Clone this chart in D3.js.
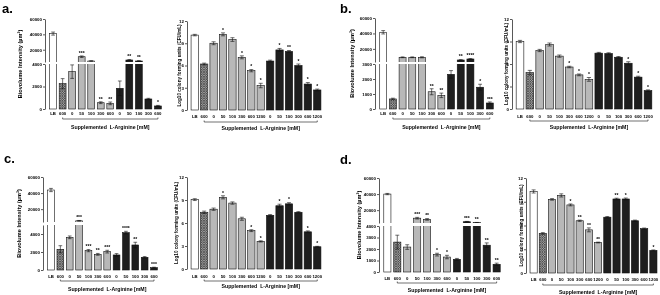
<!DOCTYPE html>
<html>
<head>
<meta charset="utf-8">
<script src="https://cdn.jsdelivr.net/npm/d3@7"></script>
<style>
  body { margin: 0; background: #fff; }
  svg { will-change: transform; }
  text { font-family: "Liberation Sans", Arial, sans-serif; font-weight: bold; fill: #000; }
</style>
</head>
<body>
<svg id="fig" width="660" height="295"></svg>
<script>
// categories
const bioCats = ["LB", "600", "0", "50", "100", "300", "600", "0", "50", "100", "300", "600"];
const cfuCats = ["LB", "600", "0", "50", "100", "300", "600", "1200", "0", "50", "100", "300", "600", "1200"];

// tick labels
const bioLowTicksA = [0, 2000, 4000];
const bioLowTicksB = [0, 1000, 2000, 3000];
const bioLowTicksC = [0, 2000, 4000];
const bioLowTicksD = [0, 1000, 2000, 3000, 4000];
const bioHighTicks = [20000, 40000, 60000];
const cfuTicks = [0, 3, 6, 9, 12];

// panel a
const bioA = [41000, 2250, 3320, 10900, 5300, 560, 500, 1840, 6600, 5300, 890, 270];
const bioAErr = [2000, 450, 600, 1000, 400, 80, 120, 650, 600, 500, 60, 50];
const bioAStars = ["", "", "", "***", "", "**", "**", "", "**", "**", "", "*"];
const cfuA = [10.1, 6.2, 9.0, 10.2, 9.5, 7.1, 5.3, 3.3, 6.6, 8.1, 7.9, 6.0, 3.5, 2.7];
const cfuAErr = [0.1, 0.12, 0.2, 0.2, 0.25, 0.2, 0.15, 0.3, 0.12, 0.2, 0.12, 0.2, 0.2, 0.12];
const cfuAStars = ["", "", "", "*", "", "*", "*", "*", "", "*", "**", "*", "*", "*"];

// panel b
const bioB = [41500, 670, 9100, 9100, 9100, 1150, 910, 2310, 5600, 6900, 1450, 400];
const bioBErr = [2200, 50, 500, 500, 700, 200, 150, 250, 400, 500, 200, 70];
const bioBStars = ["", "", "", "", "", "**", "**", "", "**", "****", "*", "***"];
const cfuB = [9.0, 4.85, 7.8, 8.6, 7.05, 5.6, 4.55, 3.95, 7.45, 7.4, 6.9, 6.1, 4.25, 2.45];
const cfuBErr = [0.15, 0.3, 0.15, 0.2, 0.15, 0.1, 0.12, 0.25, 0.1, 0.1, 0.1, 0.2, 0.12, 0.1];
const cfuBStars = ["", "", "", "", "", "*", "*", "*", "", "", "", "*", "*", "*"];

// panel c
const bioC = [43800, 2300, 3630, 5500, 2150, 1740, 2040, 1670, 4150, 2780, 1410, 260];
const bioCErr = [2000, 400, 150, 400, 120, 100, 150, 150, 150, 300, 80, 50];
const bioCStars = ["", "", "", "***", "***", "**", "***", "", "****", "**", "", "***"];
const cfuC = [9.05, 7.4, 7.8, 9.35, 8.6, 6.55, 5.0, 3.6, 7.0, 8.25, 8.5, 7.4, 4.85, 2.9];
const cfuCErr = [0.12, 0.15, 0.15, 0.2, 0.15, 0.2, 0.12, 0.08, 0.1, 0.2, 0.15, 0.08, 0.12, 0.06];
const cfuCStars = ["", "", "", "*", "", "", "*", "*", "", "*", "*", "", "*", "*"];

// panel d
const bioD = [40000, 2600, 2170, 10000, 8500, 1510, 1300, 1100, 5600, 4400, 2330, 670];
const bioDErr = [800, 600, 200, 1000, 1000, 120, 150, 80, 400, 300, 200, 100];
const bioDStars = ["", "", "", "***", "**", "*", "*", "", "***", "**", "**", "**"];
const cfuD = [10.3, 5.0, 9.3, 9.8, 8.6, 6.6, 5.45, 3.85, 7.05, 9.35, 9.35, 6.6, 5.6, 2.85];
const cfuDErr = [0.2, 0.1, 0.1, 0.2, 0.12, 0.08, 0.25, 0.05, 0.08, 0.1, 0.12, 0.08, 0.08, 0.06];
const cfuDStars = ["", "", "", "", "*", "**", "**", "**", "", "**", "*", "", "", "*"];

const svg = d3.select("#fig");

const pat = svg.append("defs").append("pattern")
    .attr("id", "hatch")
    .attr("patternUnits", "userSpaceOnUse")
    .attr("width", 2.4)
    .attr("height", 2.4);
pat.append("rect").attr("width", 2.4).attr("height", 2.4).attr("fill", "#a8a8a8");
pat.append("path").attr("d", "M0,0L2.4,2.4M2.4,0L0,2.4").attr("stroke", "#333").attr("stroke-width", 0.6);

function drawBars(g, cats, vals, errs, stars, x, y, y0) {
    let n = cats.length, half = 2 + (n - 2) / 2;
    let fill = i => i === 0 ? "#fff" : i === 1 ? "url(#hatch)" : i < half ? "#b8b8b8" : "#1e1e1e";
    let bw = x.bandwidth(), cw = bw * 0.55;

    g.selectAll(".bar")
        .data(vals)
        .enter()
        .append("rect")
        .attr("x", (d, i) => x(i))
        .attr("width", bw)
        .attr("y", d => y(d))
        .attr("height", d => y0 - y(d))
        .attr("fill", (d, i) => fill(i))
        .attr("stroke", "#111")
        .attr("stroke-width", 0.6);

    g.selectAll(".err")
        .data(vals)
        .enter()
        .append("path")
        .attr("d", (d, i) => {
            let cx = x(i) + bw / 2, t = y(d + errs[i]), b = y(Math.max(0, d - errs[i]));
            return `M${cx},${t}V${b}M${cx - cw / 2},${t}H${cx + cw / 2}M${cx - cw / 2},${b}H${cx + cw / 2}`;
        })
        .attr("fill", "none")
        .attr("stroke", "#111")
        .attr("stroke-width", 0.6);

    return (d, i) => [x(i) + bw / 2, y(d + errs[i])];
}

function drawStars(g, vals, stars, pos) {
    g.selectAll(".star")
        .data(vals)
        .enter()
        .append("text")
        .attr("x", (d, i) => pos(d, i)[0])
        .attr("y", (d, i) => pos(d, i)[1] - 1.2)
        .attr("text-anchor", "middle")
        .style("font-size", "5px")
        .style("fill", "#000")
        .text((d, i) => stars[i]);
}

function drawXLabels(g, cats, x, p) {
    let ax = g.append("g")
        .attr("transform", `translate(0,${p.labelY})`)
        .call(d3.axisBottom(x).tickSize(0).tickPadding(0).tickFormat(i => cats[i]));
    ax.select(".domain").remove();
    ax.selectAll("text").attr("y", 0).attr("dy", "0.35em").style("font-size", "4.3px")
        .attr("font-family", null).attr("fill", "#000");

    let xa = x(1) + x.bandwidth() / 2, xb = x(cats.length - 1) + x.bandwidth() / 2;
    g.append("path")
        .attr("d", `M${xa},${p.bracketY - 1.5}V${p.bracketY}H${xb}V${p.bracketY - 1.5}`)
        .attr("fill", "none")
        .attr("stroke", "#111")
        .attr("stroke-width", 0.6);
    g.append("text")
        .attr("x", (xa + xb) / 2)
        .attr("y", p.titleY)
        .attr("dy", "0.35em")
        .attr("text-anchor", "middle")
        .attr("xml:space", "preserve")
        .style("font-size", "5.2px")
        .text("Supplemented  L-Arginine [mM]");
}

function styleAxis(a) {
    a.selectAll("path, line").attr("stroke", "#111").attr("stroke-width", 0.7);
    a.selectAll("text").style("font-size", "4.4px").attr("font-family", null).attr("fill", "#000");
}

function yLabel(g, txt, xp, yc, size) {
    g.append("text")
        .attr("transform", `translate(${xp},${yc}) rotate(-90)`)
        .attr("text-anchor", "middle")
        .style("font-size", size)
        .text(txt);
}

function drawBio(p, vals, errs, stars, lowTicks) {
    let g = svg.append("g");
    let x = d3.scaleBand().domain(d3.range(bioCats.length)).range([p.x0, p.x1]).padding(0.28);
    let yLo = d3.scaleLinear().domain([0, p.lowMax]).range([p.y0, p.lowTop]);
    let yHi = d3.scaleLinear().domain([p.highMin, 60000]).range([p.highBot, p.top]);
    let y = v => v <= p.lowMax ? yLo(v) : yHi(v);

    let pos = drawBars(g, bioCats, vals, errs, stars, x, y, p.y0);

    // axis break gap
    g.append("rect")
        .attr("x", p.axisX - 3)
        .attr("y", p.highBot)
        .attr("width", p.x1 - p.axisX + 6)
        .attr("height", p.lowTop - p.highBot)
        .attr("fill", "#fff");

    let fmt = d3.format("d");
    let a1 = g.append("g").attr("transform", `translate(${p.axisX},0)`)
        .call(d3.axisLeft(yLo).tickValues(lowTicks).tickSize(2).tickSizeOuter(0).tickPadding(1).tickFormat(fmt));
    let a2 = g.append("g").attr("transform", `translate(${p.axisX},0)`)
        .call(d3.axisLeft(yHi).tickValues(bioHighTicks).tickSize(2).tickSizeOuter(0).tickPadding(1).tickFormat(fmt));
    styleAxis(a1);
    styleAxis(a2);

    drawStars(g, vals, stars, pos);
    drawXLabels(g, bioCats, x, p);
    yLabel(g, "Biovolume Intensity (µm³)", p.ylabX, (p.top + p.y0) / 2, "5.6px");
}

function drawCfu(p, vals, errs, stars) {
    let g = svg.append("g");
    let x = d3.scaleBand().domain(d3.range(cfuCats.length)).range([p.x0, p.x1]).padding(0.22);
    let y = d3.scaleLinear().domain([0, 12]).range([p.y0, p.top]);

    let pos = drawBars(g, cfuCats, vals, errs, stars, x, y, p.y0);

    let a = g.append("g").attr("transform", `translate(${p.axisX},0)`)
        .call(d3.axisLeft(y).tickValues(cfuTicks).tickSize(2).tickSizeOuter(0).tickPadding(1));
    styleAxis(a);

    drawStars(g, vals, stars, pos);
    drawXLabels(g, cfuCats, x, p);
    yLabel(g, "Log10 colony forming units (CFU/mL)", p.ylabX, (p.top + p.y0) / 2, "4.6px");
}

// panel letters
[["a.", 2, 13], ["b.", 340, 13], ["c.", 4, 163], ["d.", 340, 164]].forEach(l => {
    svg.append("text").attr("x", l[1]).attr("y", l[2]).style("font-size", "13px").text(l[0]);
});

drawBio({ axisX: 45, x0: 47, x1: 164, y0: 109, lowMax: 4000, lowTop: 64, highMin: 4000, highBot: 62, top: 19,
          labelY: 113, bracketY: 119, titleY: 127, ylabX: 22 }, bioA, bioAErr, bioAStars, bioLowTicksA);
drawCfu({ axisX: 187, x0: 189, x1: 323, y0: 110, top: 21,
          labelY: 116, bracketY: 122, titleY: 128, ylabX: 181 }, cfuA, cfuAErr, cfuAStars);

drawBio({ axisX: 375, x0: 377, x1: 496, y0: 109, lowMax: 3000, lowTop: 64, highMin: 3000, highBot: 62, top: 18,
          labelY: 113, bracketY: 119, titleY: 127, ylabX: 354 }, bioB, bioBErr, bioBStars, bioLowTicksB);
drawCfu({ axisX: 512, x0: 514, x1: 654, y0: 109, top: 19,
          labelY: 116, bracketY: 121, titleY: 127, ylabX: 508 }, cfuB, cfuBErr, cfuBStars);

drawBio({ axisX: 43, x0: 45, x1: 160, y0: 270, lowMax: 5000, lowTop: 225, highMin: 4000, highBot: 222, top: 177,
          labelY: 276, bracketY: 281, titleY: 289, ylabX: 21 }, bioC, bioCErr, bioCStars, bioLowTicksC);
drawCfu({ axisX: 187, x0: 189, x1: 323, y0: 269, top: 177,
          labelY: 276, bracketY: 281, titleY: 286, ylabX: 178 }, cfuC, cfuCErr, cfuCStars);

drawBio({ axisX: 379, x0: 381, x1: 503, y0: 272, lowMax: 4000, lowTop: 226, highMin: 4000, highBot: 223, top: 178,
          labelY: 278, bracketY: 283, titleY: 290, ylabX: 361 }, bioD, bioDErr, bioDStars, bioLowTicksD);
drawCfu({ axisX: 526, x0: 528, x1: 659, y0: 273, top: 178,
          labelY: 279, bracketY: 285, titleY: 292, ylabX: 523 }, cfuD, cfuDErr, cfuDStars);
</script>
</body>
</html>
